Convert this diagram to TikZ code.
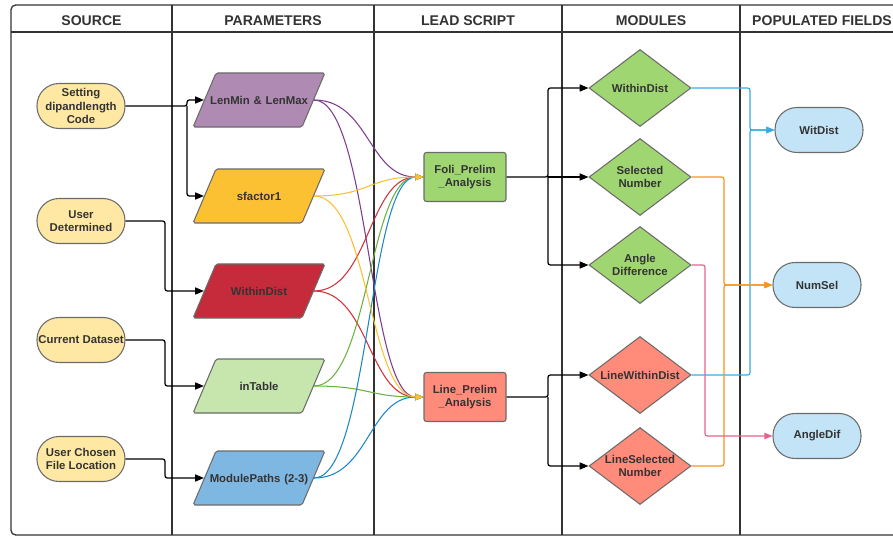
\documentclass[tikz,border=0pt]{standalone}
\usepackage{fontspec}
\setmainfont{Liberation Sans}
\usepackage{tikz}
\usetikzlibrary{shapes.geometric, arrows.meta, positioning, calc}

\definecolor{framegray}{HTML}{333333}
\definecolor{edgegray}{HTML}{6B6B6B}
\definecolor{textgray}{HTML}{333333}
\definecolor{sourceyellow}{HTML}{FFE8A3}
\definecolor{fieldblue}{HTML}{C2E4F6}
\definecolor{lenpurple}{HTML}{AF8BB3}
\definecolor{sfactoryellow}{HTML}{FBC133}
\definecolor{distred}{HTML}{C52B3A}
\definecolor{tablegreen}{HTML}{C6E6AD}
\definecolor{pathblue}{HTML}{7FB7E3}
\definecolor{foligreen}{HTML}{A0D672}
\definecolor{linesalmon}{HTML}{FF8B7B}
\definecolor{curvepurple}{HTML}{7D3B8F}
\definecolor{curveyellow}{HTML}{F9C02F}
\definecolor{curvered}{HTML}{D12F3B}
\definecolor{curvegreen}{HTML}{6AB23F}
\definecolor{curveblue}{HTML}{1C86C8}
\definecolor{linkblue}{HTML}{3AA9E2}
\definecolor{linkorange}{HTML}{F7941E}
\definecolor{linkpink}{HTML}{E8638B}

% keep a label on one line, spilling over the slanted sides if needed
\newcommand{\oneline}[1]{\makebox[\linewidth][c]{#1}}

\tikzset{
  lane/.style={draw=framegray, line width=1.1pt},
  header/.style={font=\fontsize{12}{12}\selectfont\bfseries, text=framegray},
  base/.style={draw=edgegray, line width=0.9pt, text=textgray, align=center, inner sep=1pt,
    font=\fontsize{9.7}{11.5}\selectfont\bfseries},
  source/.style={base, rectangle, rounded corners=0.66cm, fill=sourceyellow,
    minimum width=2.64cm, minimum height=1.35cm},
  field/.style={source, fill=fieldblue},
  param/.style={base, trapezium, trapezium left angle=67, trapezium right angle=113,
    inner sep=0pt, text width=2.58cm, text height=0.933cm, text depth=0.687cm, rounded corners=1.5pt},
  lead/.style={base, rectangle, rounded corners=2pt, minimum width=2.46cm, minimum height=1.47cm},
  module/.style={base, diamond, aspect=1.32, minimum width=3.06cm, minimum height=2.31cm, inner sep=0pt},
  flow/.style={draw=black, line width=1.1pt, rounded corners=2pt, -{Triangle[length=7.5pt,width=6pt]}},
  curve/.style={line width=0.9pt, -{Triangle[length=7pt,width=5.5pt]}},
  link/.style={line width=1pt, rounded corners=2pt, -{Triangle[length=7pt,width=5.5pt]}},
}

\begin{document}
\begin{tikzpicture}[x=0.03cm, y=-0.03cm]
  \useasboundingbox (0,0) rectangle (893,537);
  \clip (0,0) rectangle (893,537);

  % swimlanes
  \draw[lane, rounded corners=4pt] (11,5) rectangle (905,535);
  \draw[lane] (11,32) -- (905,32);
  \foreach \x in {172,374,562,740}
    \draw[lane] (\x,5) -- (\x,535);

  \node[header] (hsrc) at (91.5,20.5) {SOURCE};
  \node[header] (hpar) at (273,20.5) {PARAMETERS};
  \node[header] (hlead) at (468,20.5) {LEAD SCRIPT};
  \node[header] (hmod) at (651,20.5) {MODULES};
  \node[header] (hfld) at (822,20.5) {POPULATED FIELDS};

  % source
  \node[source] (src1) at (81,106) {Setting\\dipandlength\\Code};
  \node[source] (src2) at (81,221) {User\\Determined};
  \node[source] (src3) at (81,340) {Current Dataset};
  \node[source] (src4) at (81,459) {User Chosen\\File Location};

  % parameters
  \node[param, fill=lenpurple] (par1) at (259,100) {\oneline{LenMin \& LenMax}};
  \node[param, fill=sfactoryellow] (par2) at (259,196) {sfactor1};
  \node[param, fill=distred] (par3) at (259,291) {WithinDist};
  \node[param, fill=tablegreen] (par4) at (259,386) {inTable};
  \node[param, fill=pathblue] (par5) at (259,478) {\oneline{ModulePaths (2-3)}};

  % lead scripts
  \node[lead, fill=foligreen] (lead1) at (465,177) {Foli\_Prelim\\\_Analysis};
  \node[lead, fill=linesalmon] (lead2) at (465,397) {Line\_Prelim\\\_Analysis};

  % modules
  \node[module, fill=foligreen] (mod1) at (640,88) {WithinDist};
  \node[module, fill=foligreen] (mod2) at (640,177) {Selected\\Number};
  \node[module, fill=foligreen] (mod3) at (640,265) {Angle\\Difference};
  \node[module, fill=linesalmon] (mod4) at (640,375) {LineWithinDist};
  \node[module, fill=linesalmon] (mod5) at (640,466) {LineSelected\\Number};

  % populated fields
  \node[field] (fld1) at (819,130) {WitDist};
  \node[field] (fld2) at (817,285) {NumSel};
  \node[field] (fld3) at (817,436) {AngleDif};

  % bends and forks
  \coordinate (fork1) at (187,106);
  \coordinate (bend2) at (165,221);
  \coordinate (bend3) at (165,340);
  \coordinate (bend4) at (165,459);
  \coordinate (fork3) at (548,177);
  \coordinate (fork4) at (548,397);
  \coordinate (busW) at (750,130);
  \coordinate (busN) at (724,285);
  \coordinate (busA) at (705,436);

  % source -> parameters
  \draw[flow] (src1.east) -- (fork1) |- (par1.west);
  \draw[flow] (fork1) |- (par2.west);
  \draw[flow] (src2.east) -- (bend2) |- (par3.west);
  \draw[flow] (src3.east) -- (bend3) |- (par4.west);
  \draw[flow] (src4.east) -- (bend4) |- (par5.west);

  % parameters -> lead scripts
  \foreach \p/\c in {par1/curvepurple, par3/curvered, par4/curvegreen, par5/curveblue, par2/curveyellow} {
    \draw[curve, draw=\c] (\p.east) .. controls +(55,0) and +(-55,0) .. (lead1.west);
    \draw[curve, draw=\c] (\p.east) .. controls +(55,0) and +(-55,0) .. (lead2.west);
  }

  % lead scripts -> modules
  \draw[flow] (lead1.east) -- (fork3) |- (mod1.west);
  \draw[flow] (fork3) -- (mod2.west);
  \draw[flow] (fork3) |- (mod3.west);
  \draw[flow] (lead2.east) -- (fork4) |- (mod4.west);
  \draw[flow] (fork4) |- (mod5.west);

  % modules -> fields
  \draw[link, draw=linkblue] (mod1.east) -| (busW) -- (fld1.west);
  \draw[link, draw=linkblue] (mod4.east) -| (busW) -- (fld1.west);
  \draw[link, draw=linkorange] (mod2.east) -| (busN) -- (fld2.west);
  \draw[link, draw=linkorange] (mod5.east) -| (busN) -- (fld2.west);
  \draw[link, draw=linkpink] (mod3.east) -| (busA) -- (fld3.west);
\end{tikzpicture}
\end{document}
